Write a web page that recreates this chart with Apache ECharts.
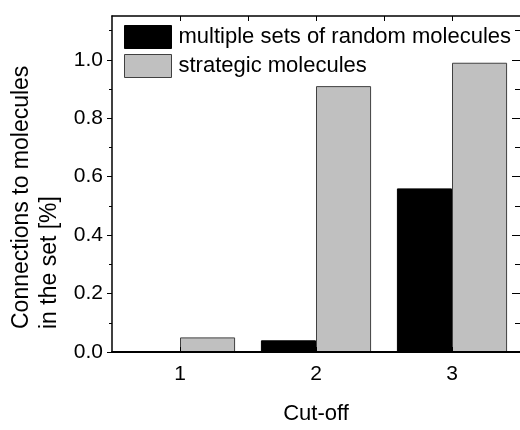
<!DOCTYPE html>
<html>
<head>
<meta charset="utf-8">
<script src="https://cdn.jsdelivr.net/npm/echarts@6/dist/echarts.min.js"></script>
<style>
html,body{margin:0;padding:0;background:#fff;}
#c{width:520px;height:430px;}
</style>
</head>
<body>
<div id="c"></div>
<script>
// ---- data ----
const categories = ['1', '2', '3'];
const seriesNames = ['multiple sets of random molecules', 'strategic molecules'];
const randomValues = [0, 0.04, 0.56];
const strategicValues = [0.05, 0.91, 0.99];
const yMajorTicks = [0, 0.2, 0.4, 0.6, 0.8, 1.0];
const yMinorTicks = [0.1, 0.3, 0.5, 0.7, 0.9, 1.1];
const topTicks = [1, 1.5, 2, 2.5, 3];
const xTitle = 'Cut-off';
const yTitle = 'Connections to molecules\nin the set [%]';

const FONT = '"Liberation Sans", Arial, sans-serif';
const chart = echarts.init(document.getElementById('c'), null, {renderer: 'canvas'});

const grid = {left: 112, top: 16, width: 410, height: 344};

chart.setOption({
  animation: false,
  backgroundColor: '#fff',
  textStyle: {fontFamily: FONT, color: '#000'},
  grid: grid,
  legend: {
    orient: 'vertical',
    left: 124, top: 25,
    padding: 0,
    itemWidth: 47, itemHeight: 23, itemGap: 5,
    icon: 'rect',
    textStyle: {fontFamily: FONT, fontSize: 22, color: '#000', padding: [0, 0, 0, 2]},
    data: [
      {name: seriesNames[0], itemStyle: {color: '#000', borderColor: '#000', borderWidth: 1}},
      {name: seriesNames[1], itemStyle: {color: '#c0c0c0', borderColor: '#404040', borderWidth: 1}}
    ]
  },
  graphic: [{
    type: 'text',
    x: 8, y: 329,
    rotation: Math.PI / 2,
    style: {
      text: yTitle,
      font: '23px ' + FONT,
      fill: '#000',
      align: 'left',
      verticalAlign: 'top',
      lineHeight: 28
    }
  }],
  xAxis: [{
    type: 'category',
    data: categories,
    position: 'bottom',
    z: 5,
    name: xTitle,
    nameLocation: 'middle',
    nameGap: 51,
    nameTextStyle: {fontFamily: FONT, fontSize: 22, color: '#000'},
    axisLine: {lineStyle: {color: '#000', width: 2}},
    axisTick: {show: true, inside: true, length: 5, alignWithLabel: true, lineStyle: {color: '#000'}},
    axisLabel: {fontFamily: FONT, fontSize: 21, color: '#000', margin: 12},
    splitLine: {show: false}
  }, {
    type: 'value',
    position: 'top',
    min: 0.5, max: 3.5, interval: 0.5,
    z: 5,
    axisLine: {show: true, onZero: false, lineStyle: {color: '#000', width: 1.5}},
    axisTick: {show: true, inside: true, length: 5, customValues: topTicks, lineStyle: {color: '#000'}},
    axisLabel: {show: false},
    splitLine: {show: false}
  }],
  yAxis: [{
    type: 'value',
    min: 0, max: 1.15, interval: 0.2,
    position: 'left',
    z: 5,
    axisLine: {show: true, lineStyle: {color: '#000', width: 1.5}},
    axisTick: {show: true, inside: false, length: 5, customValues: yMajorTicks, lineStyle: {color: '#000'}},
    axisLabel: {fontFamily: FONT, fontSize: 21, color: '#000', margin: 9, customValues: yMajorTicks,
      formatter: v => v.toFixed(1)},
    splitLine: {show: false}
  }, {
    type: 'value',
    min: 0, max: 1.15, interval: 0.1,
    position: 'left',
    z: 5,
    axisLine: {show: false},
    axisTick: {show: true, inside: false, length: 3, customValues: yMinorTicks, lineStyle: {color: '#000'}},
    axisLabel: {show: false},
    splitLine: {show: false}
  }, {
    type: 'value',
    min: 0, max: 1.15, interval: 0.2,
    position: 'right',
    z: 5,
    axisLine: {show: false},
    axisTick: {show: true, inside: true, length: 8, customValues: yMajorTicks, lineStyle: {color: '#000'}},
    axisLabel: {show: false},
    splitLine: {show: false}
  }, {
    type: 'value',
    min: 0, max: 1.15, interval: 0.1,
    position: 'right',
    z: 5,
    axisLine: {show: false},
    axisTick: {show: true, inside: true, length: 5, customValues: yMinorTicks, lineStyle: {color: '#000'}},
    axisLabel: {show: false},
    splitLine: {show: false}
  }],
  series: [{
    name: seriesNames[0],
    type: 'bar',
    xAxisIndex: 0, yAxisIndex: 0,
    data: randomValues,
    barGap: '0%',
    barCategoryGap: '19%',
    itemStyle: {color: '#000', borderColor: '#000', borderWidth: 1},
    z: 2
  }, {
    name: seriesNames[1],
    type: 'bar',
    xAxisIndex: 0, yAxisIndex: 0,
    data: strategicValues,
    barGap: '0%',
    barCategoryGap: '19%',
    itemStyle: {color: '#c0c0c0', borderColor: '#404040', borderWidth: 1},
    z: 2
  }]
});
</script>
</body>
</html>
